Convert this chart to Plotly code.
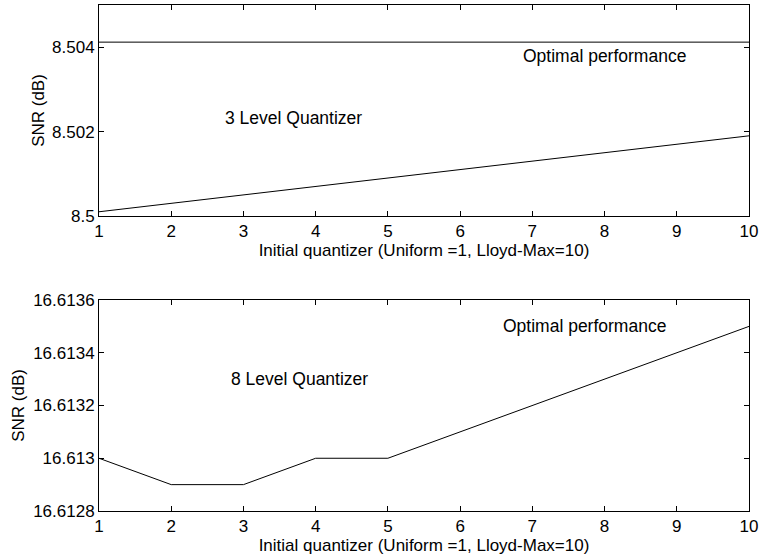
import plotly.graph_objects as go
from plotly.subplots import make_subplots

x_vals = [1, 2, 3, 4, 5, 6, 7, 8, 9, 10]
snr_3level = [8.5001, 8.5003, 8.5005, 8.5007, 8.5009, 8.5011, 8.5013, 8.5015, 8.5017, 8.5019]
optimal_3level = [8.50412, 8.50412, 8.50412, 8.50412, 8.50412, 8.50412, 8.50412, 8.50412, 8.50412, 8.50412]
snr_8level = [16.6130, 16.6129, 16.6129, 16.6130, 16.6130, 16.6131, 16.6132, 16.6133, 16.6134, 16.6135]

y3_ticks = [8.5, 8.502, 8.504]
y3_ticktext = ["8.5", "8.502", "8.504"]
y8_ticks = [16.6128, 16.6130, 16.6132, 16.6134, 16.6136]
y8_ticktext = ["16.6128", "16.613", "16.6132", "16.6134", "16.6136"]
x_ticks = [1, 2, 3, 4, 5, 6, 7, 8, 9, 10]

xlabel = "Initial quantizer (Uniform =1, Lloyd-Max=10)"
ylabel = "SNR (dB)"

FONT = "Liberation Sans, Arial, sans-serif"
FS = 17
W, H = 759, 555

fig = make_subplots(rows=2, cols=1)

line_style = dict(color="black", width=1)
fig.add_trace(go.Scatter(x=x_vals, y=optimal_3level, mode="lines", line=line_style, showlegend=False, hoverinfo="skip"), row=1, col=1)
fig.add_trace(go.Scatter(x=x_vals, y=snr_3level, mode="lines", line=line_style, showlegend=False, hoverinfo="skip"), row=1, col=1)
fig.add_trace(go.Scatter(x=x_vals, y=snr_8level, mode="lines", line=line_style, showlegend=False, hoverinfo="skip"), row=2, col=1)

axis_common = dict(
    showline=True, linecolor="black", linewidth=1, mirror="ticks",
    ticks="inside", ticklen=5, tickwidth=1, tickcolor="black",
    showgrid=False, zeroline=False, automargin=False,
    tickfont=dict(family=FONT, size=FS, color="black"),
)

top_dom = [(H - 216) / H, (H - 5) / H]
bot_dom = [(H - 511) / H, (H - 300) / H]

fig.update_layout(
    width=W, height=H,
    margin=dict(l=99, r=10, t=0, b=0),
    paper_bgcolor="white", plot_bgcolor="white",
    font=dict(family=FONT, size=FS, color="black"),
    xaxis=dict(axis_common, range=[1, 10], tickvals=x_ticks,
               title=dict(text=xlabel, font=dict(family=FONT, size=FS), standoff=2)),
    yaxis=dict(axis_common, range=[8.5, 8.505], tickvals=y3_ticks, ticktext=y3_ticktext,
               domain=top_dom,
               title=dict(text=ylabel, font=dict(family=FONT, size=FS), standoff=3)),
    xaxis2=dict(axis_common, range=[1, 10], tickvals=x_ticks,
                title=dict(text=xlabel, font=dict(family=FONT, size=FS), standoff=2)),
    yaxis2=dict(axis_common, range=[16.6128, 16.6136], tickvals=y8_ticks, ticktext=y8_ticktext,
                domain=bot_dom,
                title=dict(text=ylabel, font=dict(family=FONT, size=FS), standoff=4)),
)

ann_font = dict(family=FONT, size=17.5, color="black")
fig.add_annotation(x=6.845, y=8.50379, xref="x", yref="y", text="Optimal performance",
                   showarrow=False, xanchor="left", yanchor="middle", font=ann_font)
fig.add_annotation(x=2.72, y=8.50232, xref="x", yref="y", text="3 Level Quantizer",
                   showarrow=False, xanchor="left", yanchor="middle", font=ann_font)
fig.add_annotation(x=6.56, y=16.61350, xref="x2", yref="y2", text="Optimal performance",
                   showarrow=False, xanchor="left", yanchor="middle", font=ann_font)
fig.add_annotation(x=2.80, y=16.61330, xref="x2", yref="y2", text="8 Level Quantizer",
                   showarrow=False, xanchor="left", yanchor="middle", font=ann_font)

fig.write_html("out.html", config={"displayModeBar": False},
               post_script="document.body.style.margin='0';document.body.style.overflow='hidden';")
